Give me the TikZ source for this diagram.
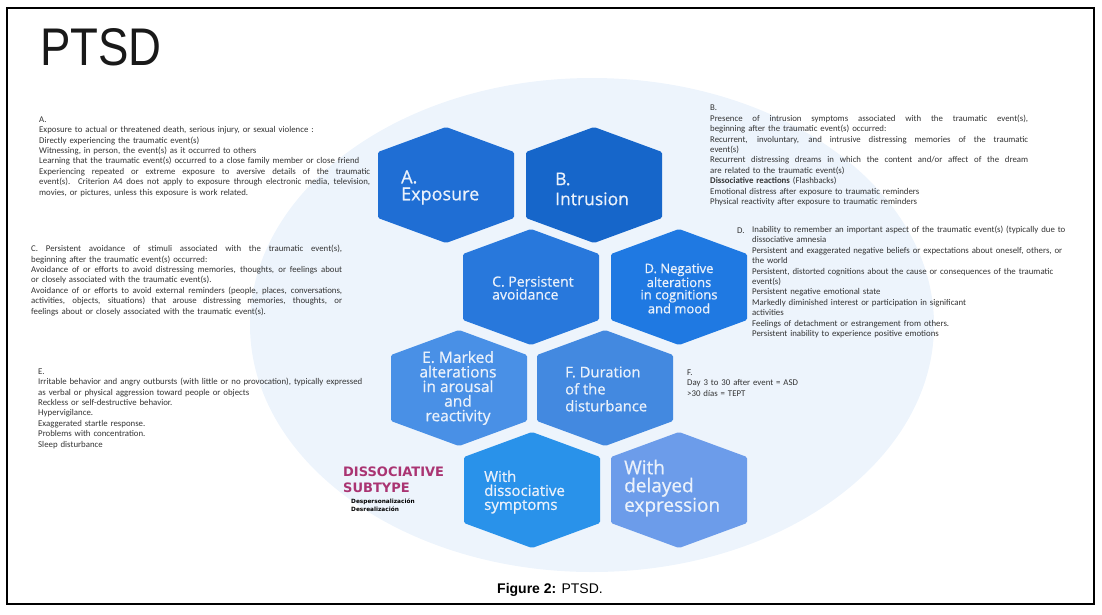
\documentclass[tikz,border=0pt]{standalone}
\usepackage{fontspec}
\setmainfont{Liberation Sans}
\newfontfamily\notefont{Carlito}
\newfontfamily\hexfont{Open Sans}[FakeBold=0.7]
\newfontfamily\subtypefont{DejaVu Sans}
\usetikzlibrary{positioning}
\definecolor{halo}{HTML}{EDF4FC}
\definecolor{notegrey}{HTML}{333333}
\definecolor{hextext}{HTML}{EAF1FB}
\definecolor{subpink}{HTML}{AA3472}
\definecolor{hexA}{HTML}{1F6ED4}
\definecolor{hexB}{HTML}{1666CA}
\definecolor{hexC}{HTML}{2878DC}
\definecolor{hexD}{HTML}{1F79E2}
\definecolor{hexE}{HTML}{4990E6}
\definecolor{hexF}{HTML}{4389E0}
\definecolor{hexG}{HTML}{2992EA}
\definecolor{hexH}{HTML}{6C9CEA}
\newcommand\jl[2]{{\spaceskip=0pt\xspaceskip=0pt\makebox[#1][s]{#2}}}
\tikzset{note/.style={anchor=west,inner sep=0pt,text width=#1,align=left,text=notegrey,
    font=\notefont\fontsize{8.8}{10.4}\selectfont},
  hexlabel/.style={inner sep=0pt,text=hextext,align=left,anchor=west},
  subtype/.style={inner sep=0pt,anchor=west,align=left}}

\begin{document}
\begin{tikzpicture}[x=1pt,y=-1pt]
\useasboundingbox (0,0) rectangle (1102,614);
\fill[halo] (592,325) ellipse[x radius=342,y radius=247];
\node[anchor=base west,inner sep=0pt,font=\fontsize{53}{53}\selectfont,text=black!90] (title)
  at (40,65) {\scalebox{0.86}[1]{PTSD}};
% the eight criteria cells
\foreach \n/\cx/\cy in {A/446/185,B/594/185,C/531/287,D/679/287,E/459/388,F/605/388,G/532/490,H/679/490} {
 \coordinate (h\n) at (\cx,\cy);
 \fill[hex\n,rounded corners=1.5pt] (\cx,\cy-58) -- (\cx+68,\cy-33) -- (\cx+68,\cy+33)
   -- (\cx,\cy+58) -- (\cx-68,\cy+33) -- (\cx-68,\cy-33) -- cycle;
}
\node[hexlabel,font=\hexfont\fontsize{18}{17}\selectfont] (lblA) at (401,187.5) {A.\\Exposure};
\node[hexlabel,font=\hexfont\fontsize{17.5}{20}\selectfont] (lblB) at (555,189) {B.\\Intrusion};
\node[hexlabel,font=\hexfont\fontsize{14}{13}\selectfont] (lblC) at (492,288) {C. Persistent\\avoidance};
\node[hexlabel,anchor=center,align=center,font=\hexfont\fontsize{13}{12.3}\selectfont] (lblD)
  at (679,288.5) {D. Negative\\alterations\\in cognitions\\and mood};
\node[hexlabel,anchor=center,align=center,font=\hexfont\fontsize{15.5}{14.6}\selectfont] (lblE)
  at (458,388) {E. Marked\\alterations\\in arousal\\and\\reactivity};
\node[hexlabel,font=\hexfont\fontsize{14.8}{17}\selectfont] (lblF) at (565,389) {F. Duration\\of the\\disturbance};
\node[hexlabel,font=\hexfont\fontsize{15}{14}\selectfont] (lblG) at (484,492) {With\\dissociative\\symptoms};
\node[hexlabel,font=\hexfont\fontsize{19}{18}\selectfont] (lblH) at (624,488) {With\\delayed\\expression};
% criteria text
\node[note=331pt] (txtA) at (39,156.5) {A.\\
 Exposure to actual or threatened death, serious injury, or sexual violence :\\
 Directly experiencing the traumatic event(s)\\
 Witnessing, in person, the event(s) as it occurred to others\\
 Learning that the traumatic event(s) occurred to a close family member or close friend\\
 \jl{331pt}{Experiencing repeated or extreme exposure to aversive details of the traumatic}\\
 \jl{331pt}{event(s). Criterion A4 does not apply to exposure through electronic media, television,}\\
 movies, or pictures, unless this exposure is work related.};
\node[note=318pt] (txtB) at (710,155.5) {B.\\
 \jl{318pt}{Presence of intrusion symptoms associated with the traumatic event(s),}\\
 beginning after the traumatic event(s) occurred:\\
 \jl{318pt}{Recurrent, involuntary, and intrusive distressing memories of the traumatic}\\
 event(s)\\
 \jl{318pt}{Recurrent distressing dreams in which the content and/or affect of the dream}\\
 are related to the traumatic event(s)\\
 \textbf{Dissociative reactions} (Flashbacks)\\
 Emotional distress after exposure to traumatic reminders\\
 Physical reactivity after exposure to traumatic reminders};
\node[note=311pt] (txtC) at (31,280.5) {%
 \jl{311pt}{C. Persistent avoidance of stimuli associated with the traumatic event(s),}\\
 beginning after the traumatic event(s) occurred:\\
 \jl{311pt}{Avoidance of or efforts to avoid distressing memories, thoughts, or feelings about}\\
 or closely associated with the traumatic event(s).\\
 \jl{311pt}{Avoidance of or efforts to avoid external reminders (people, places, conversations,}\\
 \jl{311pt}{activities, objects, situations) that arouse distressing memories, thoughts, or}\\
 feelings about or closely associated with the traumatic event(s).};
\node[note=14pt] (labD) at (737,231) {D.};
\node[note=330pt] (txtD) at (752,282) {%
 Inability to remember an important aspect of the traumatic event(s) (typically due to\\
 dissociative amnesia\\
 Persistent and exaggerated negative beliefs or expectations about oneself, others, or\\
 the world\\
 Persistent, distorted cognitions about the cause or consequences of the traumatic\\
 event(s)\\
 Persistent negative emotional state\\
 Markedly diminished interest or participation in significant\\
 activities\\
 Feelings of detachment or estrangement from others.\\
 Persistent inability to experience positive emotions};
\node[note=340pt] (txtE) at (38,408.5) {E.\\
 Irritable behavior and angry outbursts (with little or no provocation), typically expressed\\
 as verbal or physical aggression toward people or objects\\
 Reckless or self-destructive behavior.\\
 Hypervigilance.\\
 Exaggerated startle response.\\
 Problems with concentration.\\
 Sleep disturbance};
\node[note=130pt] (txtF) at (687,383) {F.\\
 Day 3 to 30 after event = ASD\\
 >30 días = TEPT};
% subtype
\node[subtype,text=subpink,font=\subtypefont\bfseries\fontsize{13}{16}\selectfont] (subtype)
  at (343,480) {DISSOCIATIVE\\SUBTYPE};
\node[subtype,text=black,font=\subtypefont\bfseries\fontsize{5.8}{8}\selectfont] (subitems)
  at (351,505) {Despersonalización\\Desrealización};
\node[font=\fontsize{14}{14}\selectfont,inner sep=0pt] (caption) at (550,590) {\textbf{Figure 2:} PTSD.};
\draw[line width=1.2pt] (7,8) rectangle (1094,604);
\end{tikzpicture}
\end{document}
